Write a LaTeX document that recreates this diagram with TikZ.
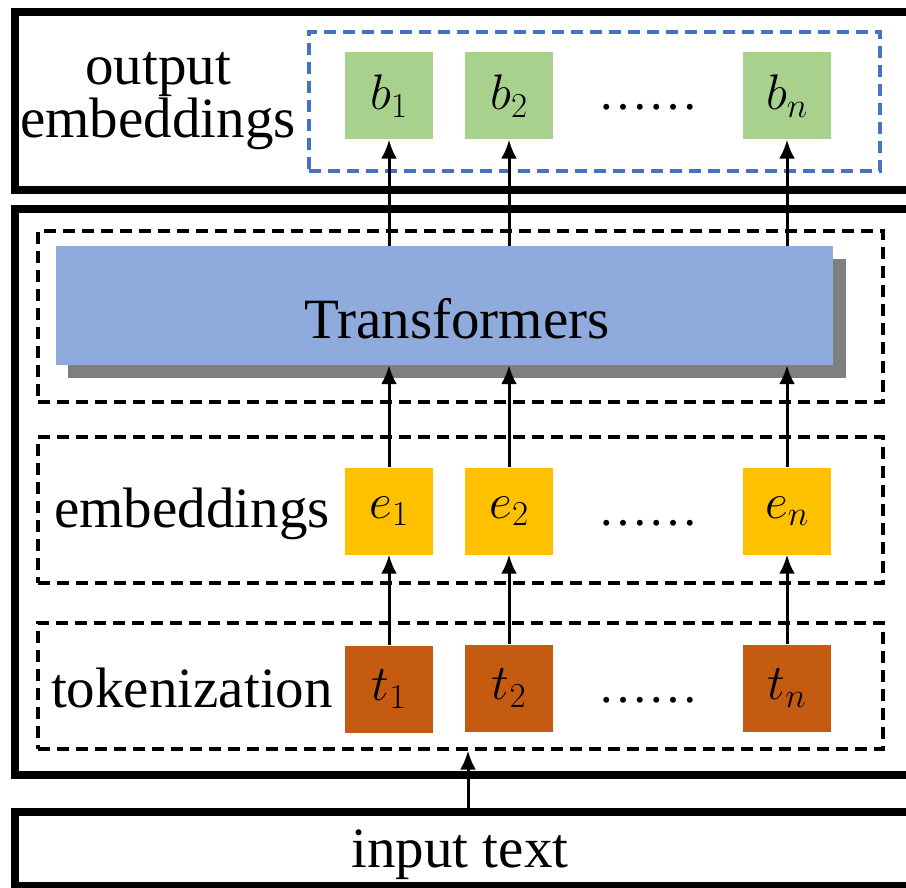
\documentclass[tikz,border=0pt]{standalone}
\usepackage{fix-cm}
\usepackage{fontspec}
\setmainfont{Liberation Serif}
\usetikzlibrary{arrows.meta}
\definecolor{bgreen}{HTML}{A9D18E}
\definecolor{eyellow}{HTML}{FFC000}
\definecolor{torange}{HTML}{C55A11}
\definecolor{tblue}{HTML}{8FAADC}
\definecolor{dblue}{HTML}{4472C4}
\definecolor{shgray}{HTML}{7F7F7F}
\begin{document}
\begin{tikzpicture}[x=1pt,y=-1pt,
  frame/.style={draw=black, line width=8pt, rectangle, inner sep=0pt},
  grp/.style={draw=black, line width=3.2pt, dash pattern=on 12pt off 7pt, rectangle, inner sep=0pt},
  bgrp/.style={grp, draw=dblue},
  cell/.style={rectangle, inner sep=0pt, minimum width=88pt, minimum height=87pt, font=\fontsize{50}{50}\selectfont},
  lbl/.style={inner sep=0pt, font=\fontsize{57}{60}\selectfont, anchor=base},
  dotsl/.style={inner sep=0pt, font=\fontsize{50}{50}\selectfont, anchor=base},
  arr/.style={-{Latex[length=19pt,width=16pt]}, line width=3pt}]
\useasboundingbox (0,0) rectangle (906,888);
\clip (0,0) rectangle (906,888);
% frames
\node[frame, minimum width=898pt, minimum height=178pt] (topframe) at (464,101) {};
\node[frame, minimum width=898pt, minimum height=566pt] (midframe) at (464,492) {};
\node[frame, minimum width=898pt, minimum height=74pt] (input) at (464,849) {};
% dashed groups
\node[bgrp, minimum width=571pt, minimum height=139pt] (bgroup) at (594.5,101.5) {};
\node[grp, minimum width=845pt, minimum height=171pt] (trgroup) at (460.5,316.5) {};
\node[grp, minimum width=845pt, minimum height=146pt] (egroup) at (460.5,510) {};
\node[grp, minimum width=845pt, minimum height=126pt] (tgroup) at (460.5,686) {};
% transformers
\node[rectangle, fill=shgray, minimum width=778pt, minimum height=119pt, inner sep=0pt] (trshadow) at (457,318.5) {};
\node[rectangle, fill=tblue, minimum width=777pt, minimum height=119pt, inner sep=0pt] (trans) at (444.5,305.5) {};
\node[lbl] (translbl) at (457,338) {Transformers};
% labels
\node[lbl] (outA) at (158,85) {output};
\node[lbl] (outB) at (158,138) {embeddings};
\node[lbl] (elbl) at (192,527) {embeddings};
\node[lbl] (tlbl) at (192,707) {tokenization};
\node[lbl] (inlbl) at (460,867) {input text};
% cells
\node[cell, fill=bgreen] (b1) at (389,96) {$b_1$};
\node[cell, fill=bgreen] (b2) at (509,96) {$b_2$};
\node[cell, fill=bgreen] (bn) at (787,96) {$b_n$};
\node[dotsl] (bd) at (648,110) {……};
\node[cell, fill=eyellow] (e1) at (389,511) {$e_1$};
\node[cell, fill=eyellow] (e2) at (509,511) {$e_2$};
\node[cell, fill=eyellow] (en) at (787,511) {$e_n$};
\node[dotsl] (ed) at (648,525) {……};
\node[cell, fill=torange] (t1) at (389,689) {$t_1$};
\node[cell, fill=torange] (t2) at (509,688) {$t_2$};
\node[cell, fill=torange] (tn) at (787,688) {$t_n$};
\node[dotsl] (td) at (648,702) {……};
% arrows
\draw[arr] (t1.north) -- (e1.south);
\draw[arr] (t2.north) -- (e2.south);
\draw[arr] (tn.north) -- (en.south);
\draw[arr] (e1.north) -- (trans.south -| e1);
\draw[arr] (e2.north) -- (trans.south -| e2);
\draw[arr] (en.north) -- (trans.south -| en);
\draw[arr] (trans.north -| b1) -- (b1.south);
\draw[arr] (trans.north -| b2) -- (b2.south);
\draw[arr] (trans.north -| bn) -- (bn.south);
\coordinate (inx) at (468,0);
\draw[arr] (input.north -| inx) -- (tgroup.south -| inx);
\end{tikzpicture}
\end{document}
